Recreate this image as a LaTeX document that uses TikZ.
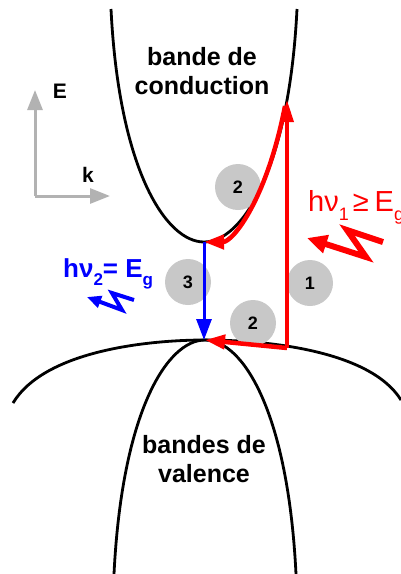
\documentclass[tikz,border=0pt]{standalone}
\usepackage{fontspec}
\setmainfont{Liberation Sans}
\usetikzlibrary{arrows.meta}
\definecolor{discgray}{RGB}{200,200,200}
\definecolor{axisgray}{RGB}{178,178,178}
\newcommand{\lowsub}[2]{\raisebox{-0.32em}{\fontsize{#1}{#1}\selectfont #2}}
\tikzset{
  band/.style={line width=2.8pt},
  disc/.style={circle, fill=discgray, minimum size=46pt, inner sep=0pt, font=\fontsize{18}{18}\selectfont\bfseries},
  bandtext/.style={anchor=base, inner sep=0pt, font=\fontsize{25}{25}\selectfont\bfseries},
  axis/.style={axisgray, line width=3pt, -{Triangle[length=20pt,width=15pt]}},
  redtip/.style={-{Triangle[length=20pt,width=14pt]}}
}
\begin{document}
\begin{tikzpicture}[x=1pt, y=-1pt]
  \useasboundingbox (0,0) rectangle (401,574);
  % key points
  \coordinate (cmin) at (204,242);
  \coordinate (vmax) at (205,340);
  \coordinate (vfoot) at (287,348);
  \coordinate (vtop) at (287,100);
  \coordinate (chit) at (285,106);
  % conduction band
  \draw[band] (111,9) .. controls (119,170) and (166,242) .. (cmin)
    .. controls (242,242) and (289,170) .. (297,9);
  % valence bands
  \draw[band] (114,574) .. controls (122,412) and (167,340) .. (vmax)
    .. controls (243,340) and (288,412) .. (296,574);
  \draw[band] (13,403) .. controls (45,350) and (150,340) .. (vmax)
    .. controls (265,340) and (370,350) .. (401,400);
  % band labels
  \node[bandtext] (cbup) at (202,65) {bande de};
  \node[bandtext] (cblow) at (202,94) {conduction};
  \node[bandtext] (vbup) at (204,453) {bandes de};
  \node[bandtext] (vblow) at (204,482) {valence};
  % axes
  \coordinate (origin) at (35,196);
  \coordinate (Etip) at (35,90);
  \coordinate (ktip) at (110,196);
  \draw[axis] (origin) -- (Etip);
  \draw[axis] (origin) -- (ktip);
  \node[font=\fontsize{21}{21}\selectfont\bfseries] (Elabel) at (60,91) {E};
  \node[font=\fontsize{21}{21}\selectfont\bfseries] (klabel) at (88,175) {k};
  % steps
  \node[disc] (stepa) at (238,187) {2};
  \node[disc] (stepb) at (188,282) {3};
  \node[disc] (stepc) at (310,283) {1};
  \node[disc] (stepd) at (253,323) {2};
  % transitions
  \draw[red, line width=3.5pt, -{Triangle[length=22pt,width=13pt]}] (vfoot) -- (vtop);
  \draw[red, line width=4.5pt, redtip] (chit) .. controls (267,199) and (233,242) .. (cmin);
  \draw[red, line width=4.5pt, redtip] (vfoot) -- (vmax);
  \draw[blue, line width=3pt, -{Triangle[length=21pt,width=15pt]}] (cmin) -- (cmin |- vmax);
  % photons
  \draw[red, line width=6pt, line join=miter, -{Triangle[length=20pt,width=18pt]}]
    (383,242) -- (347,230) -- (366,257) -- (307,238);
  \draw[blue, line width=4pt, line join=miter, -{Triangle[length=14pt,width=12pt]}]
    (134,300) -- (112,293) -- (122,310) -- (87,297);
  \node[anchor=base west, inner sep=0pt, text=red, font=\fontsize{29}{29}\selectfont] (hnua) at (308,211)
    {hν\lowsub{18}{1}\kern4pt≥\kern6pt E\lowsub{18}{g}};
  \node[anchor=base west, inner sep=0pt, text=blue, font=\fontsize{26}{26}\selectfont\bfseries] (hnub) at (63,277)
    {hν\lowsub{17}{2}= E\lowsub{17}{g}};
\end{tikzpicture}
\end{document}
